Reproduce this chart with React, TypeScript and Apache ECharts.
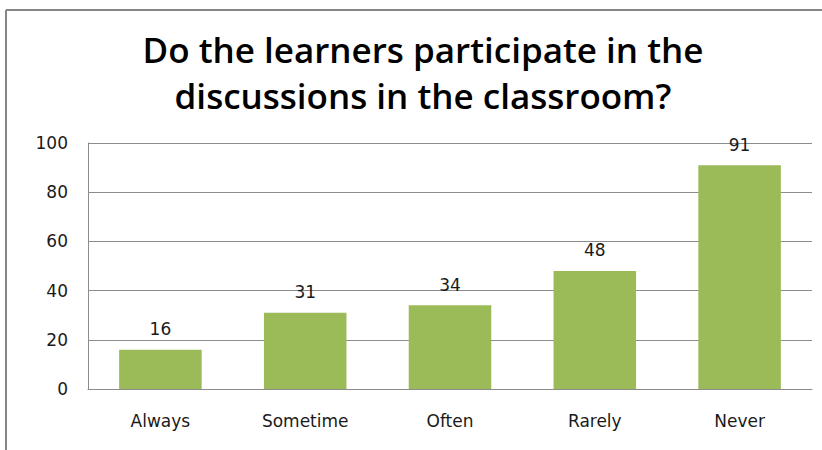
import React, { useEffect, useRef } from "react";
import * as echarts from "echarts";

const categories = ["Always", "Sometime", "Often", "Rarely", "Never"];
const values = [16, 31, 34, 48, 91];
const titleText = "Do the learners participate in the\ndiscussions in the classroom?";

export default function App() {
  const ref = useRef<HTMLDivElement>(null);
  useEffect(() => {
    document.body.style.margin = "0";
    if (!ref.current) return;
    const chart = echarts.init(ref.current, undefined, { renderer: "svg" });
    const labelStyle = {
      fontFamily: "DejaVu Sans",
      fontSize: 17,
      color: "#1a1a1a",
    };
    chart.setOption({
      animation: false,
      backgroundColor: "#ffffff",
      title: {
        text: titleText,
        left: 418,
        textAlign: "center",
        top: 21,
        textStyle: {
          fontFamily: "Open Sans",
          fontWeight: 600,
          fontSize: 35,
          lineHeight: 46,
          color: "#000000",
        },
      },
      graphic: [
        {
          type: "line",
          shape: { x1: 6, y1: 10, x2: 822, y2: 10 },
          style: { stroke: "#868686", lineWidth: 2 },
          silent: true,
        },
        {
          type: "line",
          shape: { x1: 6, y1: 10, x2: 6, y2: 450 },
          style: { stroke: "#868686", lineWidth: 2 },
          silent: true,
        },
      ],
      grid: { left: 88, right: 10, top: 143, bottom: 61 },
      xAxis: {
        type: "category",
        data: categories,
        axisLine: { show: true, lineStyle: { color: "#8c8c8c", width: 1 } },
        axisTick: { show: false },
        axisLabel: { margin: 23, ...labelStyle },
      },
      yAxis: {
        type: "value",
        min: 0,
        max: 100,
        interval: 20,
        axisLine: { show: true, lineStyle: { color: "#8c8c8c", width: 1 } },
        axisTick: { show: false },
        axisLabel: { margin: 20, ...labelStyle },
        splitLine: { show: true, lineStyle: { color: "#8c8c8c", width: 1 } },
      },
      series: [
        {
          type: "bar",
          data: values,
          barWidth: "57%",
          itemStyle: { color: "#9BBB59" },
          label: {
            show: true,
            position: "top",
            distance: 12,
            ...labelStyle,
          },
        },
      ],
    });
    return () => chart.dispose();
  }, []);
  return <div ref={ref} style={{ width: 822, height: 450 }} />;
}
